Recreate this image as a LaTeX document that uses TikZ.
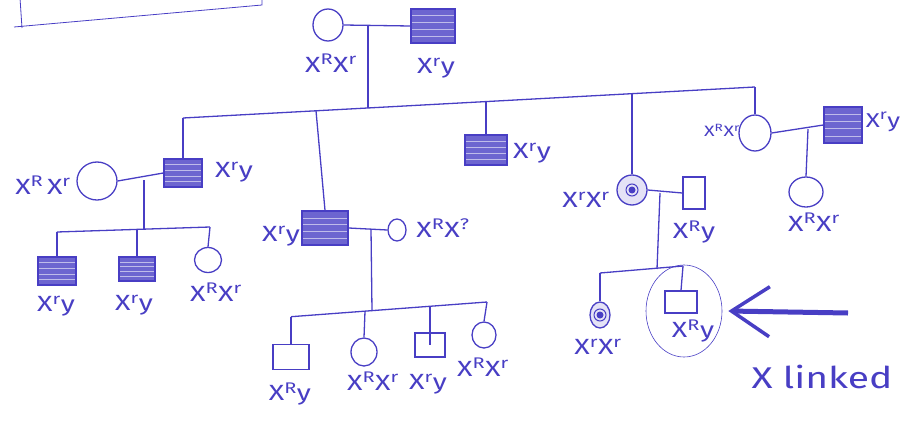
\documentclass[tikz,border=0pt]{standalone}
\usepackage{fontspec}
\setmainfont{Fira Sans}
\newfontfamily\handfont[FakeStretch=1.3]{Fira Sans}
\usetikzlibrary{arrows.meta,positioning,calc,patterns.meta,shapes.geometric}
\definecolor{ink}{RGB}{72,62,196}

\tikzset{
    pen/.style={draw=ink, line width=1.3pt},
    male/.style={pen, rectangle, minimum width=36pt, minimum height=28pt, inner sep=0pt},
    female/.style={pen, ellipse, minimum width=30pt, minimum height=32pt, inner sep=0pt},
    affected/.style={fill=ink!80, path picture={
        \foreach \k in {0.2,0.4,0.6,0.8}
            \draw[ink!35, line width=0.6pt]
                ($(path picture bounding box.north west)!\k!(path picture bounding box.south west)$) --
                ($(path picture bounding box.north east)!\k!(path picture bounding box.south east)$);}},
    ringed/.style={path picture={
        \draw[ink, line width=1pt] (path picture bounding box.center) circle (6pt);
        \fill[ink] (path picture bounding box.center) circle (3.5pt);}},
    geno/.style={text=ink, font=\handfont\fontsize{22}{23}\selectfont, inner sep=0pt},
}

\begin{document}
\begin{tikzpicture}[x=1pt, y=-1pt, >=Stealth]
    \useasboundingbox (0,0) rectangle (909,420);

    % Note box, cut off at the top
    \draw[ink, line width=0.8pt] (20,-2) -- (22,28) (14,27) -- (262,5) -- (262,-2);

    % Generation I
    \node[female] (gma) at (328,25) {};
    \node[male, affected, minimum width=44pt, minimum height=34pt] (gpa) at (433,26) {};
    \draw[pen] (gma.east) -- (gpa.west);
    \node[geno] (gmaG) at (331,63) {X\textsuperscript{R}X\textsuperscript{r}};
    \node[geno] (gpaG) at (436,68) {X\textsuperscript{r}y};

    % Sibship line of generation II
    \coordinate (d1) at (368,26);
    \coordinate (s1) at (368,108);
    \draw[pen] (d1) -- (s1);
    \coordinate (sibA) at (183,118);
    \coordinate (sibB) at (316,110.7);
    \coordinate (sibC) at (486,101.5);
    \coordinate (sibD) at (632,93.5);
    \coordinate (sibE) at (755,87);
    \draw[pen] (sibA) -- (sibE);

    % II.1 and his family
    \node[male, affected, minimum width=38pt] (uncle) at (183,173) {};
    \node[female, minimum width=40pt, minimum height=38pt] (aunt) at (97,181) {};
    \draw[pen] (sibA) -- (uncle.north);
    \draw[pen] (aunt.east) -- (uncle.west);
    \node[geno] at (43,185) {X\textsuperscript{R}\,X\textsuperscript{r}};
    \node[geno] at (234,172) {X\textsuperscript{r}y};
    \coordinate (d2) at (144,180);
    \coordinate (s2) at (144,230);
    \draw[pen] (d2) -- (s2);
    \coordinate (s2a) at (57,232);
    \coordinate (s2b) at (137,230);
    \coordinate (s2c) at (210,227);
    \draw[pen] (s2a) -- (s2c);
    \node[male, affected, minimum width=38pt] (cou1) at (57,271) {};
    \node[male, affected, minimum height=24pt] (cou2) at (137,269) {};
    \node[female, minimum width=27pt, minimum height=25pt] (cou3) at (208,260) {};
    \draw[pen] (s2a) -- (cou1.north);
    \draw[pen] (s2b) -- (cou2.north);
    \draw[pen] (s2c) -- (cou3.north);
    \node[geno] at (56,306) {X\textsuperscript{r}y};
    \node[geno] at (134,305) {X\textsuperscript{r}y};
    \node[geno] at (216,292) {X\textsuperscript{R}X\textsuperscript{r}};

    % II.2 and his family
    \node[male, affected, minimum width=46pt, minimum height=34pt] (uncleB) at (325,228) {};
    \node[female, minimum width=18pt, minimum height=22pt] (auntB) at (397,230) {};
    \draw[pen] (sibB) -- (uncleB.north);
    \draw[pen] (uncleB.east) -- (auntB.west);
    \node[geno] at (281,236) {X\textsuperscript{r}y};
    \node[geno] at (443,228) {X\textsuperscript{R}X\textsuperscript{?}};
    \coordinate (d3) at (371,229);
    \coordinate (s3) at (372,311);
    \draw[pen] (d3) -- (s3);
    \coordinate (s3a) at (291,316.7);
    \coordinate (s3b) at (365,311.2);
    \coordinate (s3c) at (430,306.3);
    \coordinate (s3d) at (487,302);
    \draw[pen] (s3a) -- (s3d);
    \node[male, minimum width=36pt, minimum height=25pt] (cuz1) at (291,357) {};
    \node[female, minimum width=26pt, minimum height=28pt] (cuz2) at (364,352) {};
    \node[male, minimum width=30pt, minimum height=24pt] (cuz3) at (430,345) {};
    \node[female, minimum width=24pt, minimum height=26pt] (cuz4) at (484,335) {};
    \draw[pen] (s3a) -- (cuz1.north);
    \draw[pen] (s3b) -- (cuz2.north);
    \draw[pen] (s3c) -- (cuz3.center);
    \draw[pen] (s3d) -- (cuz4.north);
    \node[geno] at (290,394) {X\textsuperscript{R}y};
    \node[geno] at (373,381) {X\textsuperscript{R}X\textsuperscript{r}};
    \node[geno] at (428,384) {X\textsuperscript{r}y};
    \node[geno] at (483,367) {X\textsuperscript{R}X\textsuperscript{r}};

    % II.3
    \node[male, affected, minimum width=42pt, minimum height=30pt] (uncleC) at (486,150) {};
    \draw[pen] (sibC) -- (uncleC.north);
    \node[geno] at (532,153) {X\textsuperscript{r}y};

    % II.4, the mother of the proband
    \node[female, minimum width=30pt, minimum height=30pt, fill=ink!15, ringed] (mum) at (632,190) {};
    \node[male, minimum width=22pt, minimum height=32pt] (dad) at (694,193) {};
    \draw[pen] (sibD) -- (mum.north);
    \draw[pen] (mum.east) -- (dad.west);
    \node[geno] at (586,200) {X\textsuperscript{r}X\textsuperscript{r}};
    \node[geno] at (694,232) {X\textsuperscript{R}y};
    \coordinate (d4) at (660,193);
    \coordinate (s4) at (657,269);
    \draw[pen] (d4) -- (s4);
    \coordinate (s4a) at (600,273);
    \coordinate (s4b) at (683,266);
    \draw[pen] (s4a) -- (s4b);
    \node[female, minimum width=20pt, minimum height=26pt, fill=ink!15, ringed] (sis) at (600,315) {};
    \node[male, minimum width=32pt, minimum height=22pt] (proband) at (681,302) {};
    \draw[pen] (s4a) -- (sis.north);
    \draw[pen] (s4b) -- (proband.north);
    \node[geno] at (598,347) {X\textsuperscript{r}X\textsuperscript{r}};
    \node[geno] at (693,331) {X\textsuperscript{R}y};

    % Ring and arrow at the proband
    \node[draw=ink, line width=0.6pt, ellipse, minimum width=76pt, minimum height=92pt] (ring) at (684,311) {};
    \coordinate (tail) at (848,313);
    \draw[ink, line width=5pt, -{Straight Barb[length=38pt, width=50pt, line width=3.5pt]}] (tail) -- ([xshift=6pt]ring.east);

    % II.5 and her family
    \node[female, minimum width=32pt, minimum height=36pt] (auntC) at (755,133) {};
    \node[male, affected, minimum width=38pt, minimum height=36pt] (uncleD) at (843,125) {};
    \draw[pen] (sibE) -- (auntC.north);
    \draw[pen] (auntC.east) -- (uncleD.west);
    \node[geno, font=\handfont\fontsize{15}{16}\selectfont] at (722,130) {X\textsuperscript{R}X\textsuperscript{r}};
    \node[geno, font=\handfont\fontsize{20}{21}\selectfont] at (883,122) {X\textsuperscript{r}y};
    \coordinate (d5) at (808,129);
    \node[female, minimum width=34pt, minimum height=30pt] (cuzD) at (806,192) {};
    \draw[pen] (d5) -- (cuzD.north);
    \node[geno] at (814,222) {X\textsuperscript{R}X\textsuperscript{r}};

    % Note
    \node[text=ink, font=\handfont\fontsize{30}{32}\selectfont] (note) at (822,377) {X linked};

\end{tikzpicture}
\end{document}
